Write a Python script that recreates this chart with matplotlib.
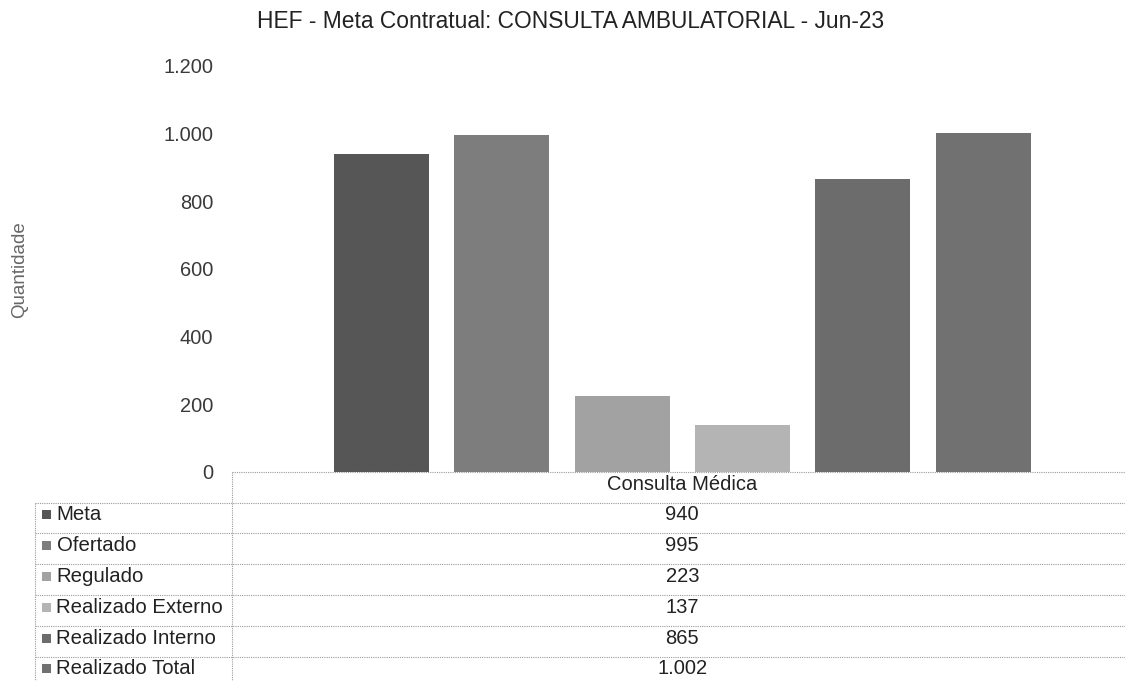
import matplotlib
matplotlib.use("Agg")
import matplotlib.pyplot as plt
from matplotlib.lines import Line2D
from matplotlib.patches import Rectangle
import matplotlib.transforms as mtransforms
from matplotlib.ticker import FuncFormatter

# ---- data ----
title = "HEF - Meta Contratual: CONSULTA AMBULATORIAL - Jun-23"
category = "Consulta Médica"
series = ["Meta", "Ofertado", "Regulado", "Realizado Externo", "Realizado Interno", "Realizado Total"]
values = [940, 995, 223, 137, 865, 1002]
colors = ["#565656", "#7d7d7d", "#a2a2a2", "#b4b4b4", "#6c6c6c", "#717171"]
yticks = [0, 200, 400, 600, 800, 1000, 1200]
ylabel = "Quantidade"

def fmt(v):
    return f"{int(v):,}".replace(",", ".")

plt.rcParams["font.family"] = ["Liberation Sans", "DejaVu Sans"]

W, H = 1125, 681
fig = plt.figure(figsize=(W / 100, H / 100), dpi=100)

def fx(px):
    return px / W

def fy(py):
    return 1 - py / H

ax_left, ax_right = 232, 1125
ax_bottom, ax_top = 471.7, 66
ax = fig.add_axes([fx(ax_left), fy(ax_bottom), fx(ax_right - ax_left), (ax_bottom - ax_top) / H])

pos = list(range(len(values)))
ax.bar(pos, values, width=0.79, color=colors, edgecolor="none")
ax.set_xlim(-1.243, 6.18)
ax.set_ylim(0, 1200)
ax.set_yticks(yticks)
ax.yaxis.set_major_formatter(FuncFormatter(lambda v, p: fmt(v)))
ax.tick_params(axis="y", length=0, pad=13.5, labelsize=14.4, labelcolor="#3a3a3a")
ax.set_xticks([])
for s in ["left", "right", "top", "bottom"]:
    ax.spines[s].set_visible(False)

# title & ylabel
fig.text(fx(571), fy(21), title, ha="center", va="center", fontsize=16.4, color="#222222")
fig.text(fx(20), fy(270), ylabel, ha="center", va="center", rotation=90, fontsize=13.5, color="#666666")

# ---- data table ----
row_h = 30.8
top = 471.7
nrows = len(series) + 1
line_kw = dict(color="#9a9a9a", linewidth=0.8, linestyle=(0, (1, 1)), transform=fig.transFigure)
fig.add_artist(Line2D([fx(232), fx(1125)], [fy(top), fy(top)], **line_kw))
for i in range(1, nrows + 1):
    y = top + row_h * i
    fig.add_artist(Line2D([fx(35), fx(1125)], [fy(y), fy(y)], **line_kw))
fig.add_artist(Line2D([fx(232), fx(232)], [fy(top), fy(H + 10)], **line_kw))
fig.add_artist(Line2D([fx(35), fx(35)], [fy(top + row_h), fy(H + 10)], **line_kw))

center = sum(pos) / len(pos)
blend = mtransforms.blended_transform_factory(ax.transData, fig.transFigure)
fig.text(center, fy(top + row_h * 0.5 - 3), category, transform=blend,
         ha="center", va="center", fontsize=14.5, color="#222222")
for i, (name, v, c) in enumerate(zip(series, values, colors)):
    yc = top + row_h * (i + 1.5) - 3
    fig.text(center, fy(yc), fmt(v), transform=blend, ha="center", va="center",
             fontsize=14.5, color="#222222")
    fig.add_artist(Rectangle((fx(42), fy(yc + 4.5)), fx(9), 9 / H, facecolor=c,
                             edgecolor="none", transform=fig.transFigure))
    fig.text(fx(56.5), fy(yc), name, ha="left", va="center", fontsize=14.7, color="#222222")

fig.savefig("out.png", dpi=100)
